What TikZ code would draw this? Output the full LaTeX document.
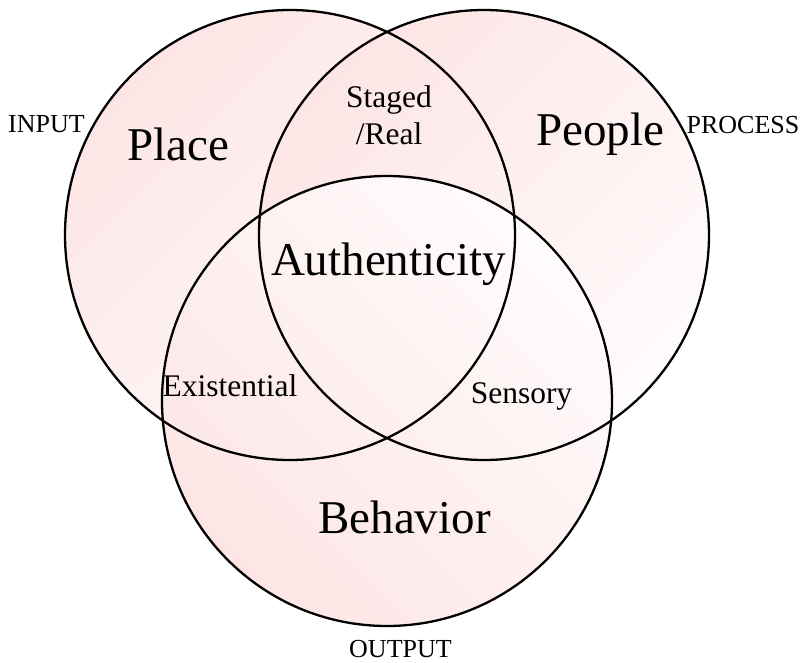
\documentclass[tikz,border=0pt]{standalone}
\usepackage{fontspec}
\setmainfont{Liberation Serif}
\definecolor{pinkA}{RGB}{253,229,229}
\definecolor{pinkB}{RGB}{255,252,252}
\begin{document}
\begin{tikzpicture}[x=1pt,y=-1pt,
  ring/.style={line width=2.3pt, draw=black},
  big/.style={font=\fontsize{47}{56}\selectfont, anchor=base, inner sep=0pt},
  mid/.style={font=\fontsize{31.5}{37}\selectfont, anchor=base, inner sep=0pt, align=center},
  small/.style={font=\fontsize{26}{31}\selectfont, anchor=base, inner sep=0pt}]
\useasboundingbox (0,0) rectangle (804,662);
\coordinate (cL) at (290,235);
\coordinate (cR) at (484,235);
\coordinate (cB) at (387,401);
% fills
\shade[top color=pinkA, bottom color=pinkB, shading angle=45] (cL) circle[radius=225pt];
\shade[top color=pinkA, bottom color=pinkB, shading angle=45] (cR) circle[radius=225pt];
\shade[top color=pinkA, bottom color=pinkB, shading angle=135] (cB) circle[radius=225pt];
% outlines
\draw[ring] (cL) circle[radius=225pt];
\draw[ring] (cR) circle[radius=225pt];
\draw[ring] (cB) circle[radius=225pt];
% labels
\node[big] (place) at (178.5,160) {Place};
\node[big] (people) at (600,145) {People};
\node[big] (auth) at (388.5,275) {Authenticity};
\node[big] (behav) at (404.5,533) {Behavior};
\node[mid] (staged) at (389,144) {Staged\\/Real};
\node[mid] (exist) at (230,396) {Existential};
\node[mid] (sens) at (521.5,403) {Sensory};
\node[small] (input) at (46.5,132) {INPUT};
\node[small] (process) at (743,133) {PROCESS};
\node[small] (output) at (400.5,657) {OUTPUT};
\end{tikzpicture}
\end{document}
